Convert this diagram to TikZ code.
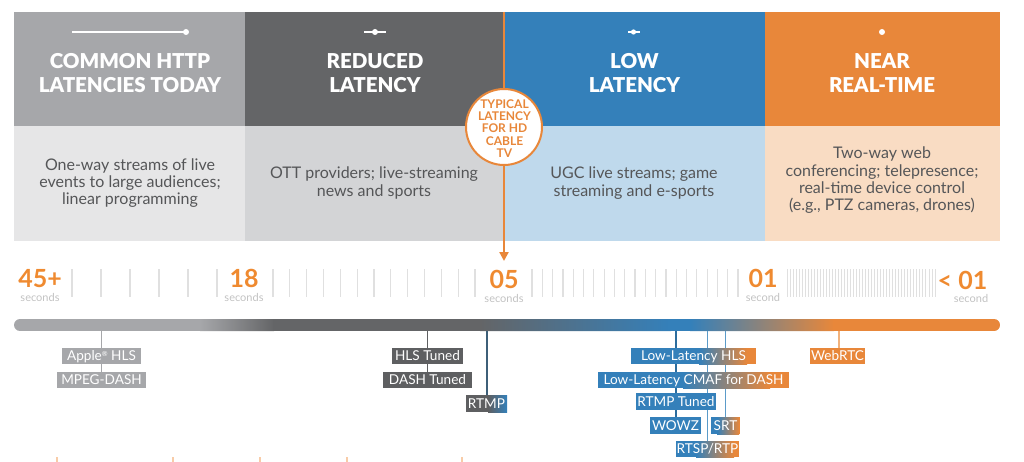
\documentclass[tikz,border=0pt]{standalone}
\usepackage{fontspec}
\setmainfont{Lato}
\newfontfamily\heavyfont{Lato Black}
\usetikzlibrary{arrows.meta,calc}
\definecolor{cgray}{HTML}{A6A7AA}
\definecolor{cdark}{HTML}{646567}
\definecolor{cboxdark}{HTML}{5E5F61}
\definecolor{cblue}{HTML}{3480BA}
\definecolor{corange}{HTML}{E8873A}
\definecolor{cnum}{HTML}{EF8A30}
\definecolor{lgray}{HTML}{E6E6E7}
\definecolor{ldark}{HTML}{D3D4D6}
\definecolor{lblue}{HTML}{BFD9EC}
\definecolor{lorange}{HTML}{F9DCC3}
\definecolor{ctext}{HTML}{555658}
\definecolor{csec}{HTML}{C2C2C2}
\definecolor{ctick}{HTML}{E0E0E0}
\definecolor{cline}{HTML}{3D5F78}
\definecolor{cbline}{HTML}{5B9BC9}
\definecolor{coline}{HTML}{F2B27C}
\definecolor{cbot}{HTML}{F8CCA8}
\pgfdeclarelayer{bg}
\pgfdeclarelayer{lines}
\pgfsetlayers{bg,lines,main}
\tikzset{
  head/.style={align=center,text=white,inner sep=0pt,font=\heavyfont\fontsize{20.5}{24}\selectfont},
  body/.style={align=center,text=ctext,inner sep=0pt,font=\fontsize{16}{17.3}\selectfont},
  num/.style={anchor=base,text=cnum,inner sep=0pt,font=\bfseries\fontsize{25}{25}\selectfont},
  sec/.style={anchor=base,text=csec,inner sep=0pt,font=\fontsize{11}{11}\selectfont},
  tickline/.style={ctick,line width=1.2pt},
  box/.style={inner sep=0pt,minimum height=16pt,text=white,text height=9.8pt,text depth=0pt,font=\fontsize{13.6}{14}\selectfont},
  gradfill/.style n args={4}{fill=#1,path picture={
     \fill[#2] ($(path picture bounding box.north west)+(#4-0.6,0)$) rectangle (path picture bounding box.south east);
     \shade[left color=#1,right color=#2] ($(path picture bounding box.south west)+(#3,0)$) rectangle ($(path picture bounding box.north west)+(#4,0)$);}},
  conn/.style={line width=1.2pt},
  icon/.style={white,line width=2.4pt}
}
\begin{document}
\begin{tikzpicture}[x=1pt,y=-1pt]
\useasboundingbox (0,0) rectangle (1024,462);
\begin{pgfonlayer}{bg}
\fill[cgray] (14,12) rectangle (245,126);
\fill[cdark] (245,12) rectangle (503,126);
\fill[cblue] (503,12) rectangle (765,126);
\fill[corange] (765,12) rectangle (1000,126);
\fill[lgray] (14,126) rectangle (245,241);
\fill[ldark] (245,126) rectangle (503,241);
\fill[lblue] (503,126) rectangle (765,241);
\fill[lorange] (765,126) rectangle (1000,241);
% header icons
\draw[icon] (72,32) -- (186,32); \fill[white] (186,32) circle (3pt);
\draw[icon] (364,32) -- (386,32); \fill[white] (375,32) circle (3pt);
\draw[icon,line width=2pt] (628,32) -- (640,32); \fill[white] (633.5,32) circle (2.6pt);
\fill[white] (882,32) circle (3pt);
% scale ticks
\foreach \i in {0,...,5} \draw[tickline] ({72+29*\i},269) -- ({72+29*\i},297);
\foreach \i in {0,...,12} \draw[tickline] ({273+16.83*\i},269) -- ({273+16.83*\i},297);
\foreach \i in {0,...,20} \draw[tickline] ({532+10.3*\i},269) -- ({532+10.3*\i},297);
\foreach \i in {0,...,49} \draw[ctick,line width=0.9pt] ({787+3.02*\i},269) -- ({787+3.02*\i},297);
% gradient bar
\begin{scope}
\clip[rounded corners=6pt] (14,319) rectangle (1000,331);
\fill[cgray] (14,319) rectangle (201,331);
\shade[left color=cgray,right color=cdark] (200,319) rectangle (274,331);
\fill[cdark] (273,319) rectangle (481,331);
\shade[left color=cdark,right color=cblue] (480,319) rectangle (671,331);
\fill[cblue] (670,319) rectangle (691,331);
\shade[left color=cblue,right color=corange] (690,319) rectangle (834,331);
\fill[corange] (833,319) rectangle (1000,331);
\end{scope}
% bottom cut-off ticks
\foreach \x in {57,173,260,347,462} \draw[cbot,line width=1.4pt] (\x,457) -- (\x,462);
\end{pgfonlayer}

% header texts
\node[head] (h1) at (130,73.5) {COMMON HTTP\\LATENCIES TODAY};
\node[head] (h2) at (375,73.5) {REDUCED\\LATENCY};
\node[head] (h3) at (634.5,73.5) {LOW\\LATENCY};
\node[head] (h4) at (882,73.5) {NEAR\\REAL-TIME};
% body texts
\node[body] (t1) at (130,183) {One-way streams of live\\events to large audiences;\\linear programming};
\node[body] (t2) at (374,183) {OTT providers; live-streaming\\news and sports};
\node[body] (t3) at (634,183) {UGC live streams; game\\streaming and e-sports};
\node[body] (t4) at (882,180.5) {Two-way web\\conferencing; telepresence;\\real-time device control\\(e.g., PTZ cameras, drones)};
% callout
\coordinate (tvtop) at (504,12);
\coordinate (tvtip) at (504,261);
\node[circle,draw=corange,line width=2pt,fill=white,minimum size=76pt,inner sep=0pt] (tv) at (504,127) {};
\node[align=center,text=corange,inner sep=0pt,font=\bfseries\fontsize{12}{12.2}\selectfont] (tvtext) at (504.5,128.5) {TYPICAL\\LATENCY\\FOR HD\\CABLE\\TV};
% scale labels
\node[num] (n45) at (40,287) {45+};
\node[sec] (s45) at (40,301) {seconds};
\node[num] (n18) at (244,287) {18};
\node[sec] (s18) at (244,301) {seconds};
\node[num] (n05) at (504,288) {05};
\node[sec] (s05) at (504,302) {seconds};
\node[num] (n01) at (763,287) {01};
\node[sec] (s01) at (763,301) {second};
\node[num] (nl01) at (962.5,289) {< 01};
\node[sec] (sl01) at (971,302.5) {second};
% protocol boxes
\node[box,fill=cgray,minimum width=79pt] (apple) at (101.5,356) {Apple\raisebox{4pt}{\fontsize{7}{7}\selectfont ®} HLS};
\node[box,fill=cgray,minimum width=89pt] (mpeg) at (101.5,380) {MPEG-DASH};
\node[box,fill=cboxdark,minimum width=71pt] (hlst) at (427.5,356) {HLS Tuned};
\node[box,fill=cboxdark,minimum width=89pt] (dasht) at (427.5,380) {DASH Tuned};
\node[box,gradfill={cboxdark}{cblue}{22}{41},minimum width=41pt,minimum height=17pt] (rtmp) at (486.5,403.5) {RTMP};
\node[box,gradfill={cblue}{corange}{68}{116},minimum width=125pt] (llhls) at (693.5,356) {Low-Latency HLS};
\node[box,gradfill={cblue}{corange}{85}{172},minimum width=191pt] (cmaf) at (693.5,380) {Low-Latency CMAF for DASH};
\node[box,fill=cblue,minimum width=80pt,minimum height=17pt] (rtmpt) at (676,401.5) {RTMP Tuned};
\node[box,fill=cblue,minimum width=51pt,minimum height=17pt] (wowz) at (675.5,425.5) {WOWZ};
\node[box,gradfill={cblue}{corange}{6}{28},minimum width=29pt,minimum height=17pt] (srt) at (725.5,425.5) {SRT};
\node[box,gradfill={cblue}{corange}{20}{58},minimum width=63pt] (rtsp) at (707.5,449) {RTSP/RTP};
\node[box,fill=corange,minimum width=55pt] (webrtc) at (837.5,356) {WebRTC};
% bar anchor points
\coordinate (b1) at (101.5,331);
\coordinate (b2) at (427.5,331);
\coordinate (b3) at (487,331);
\coordinate (b4) at (676,331);
\coordinate (b5) at (707.5,331);
\coordinate (b6) at (725.5,331);
\coordinate (b7) at (839,331);
\begin{pgfonlayer}{lines}
\draw[corange,line width=2.5pt] (tvtop) -- (tv.north);
\draw[corange,line width=2.5pt,-{Triangle[width=9pt,length=9pt]}] (tv.south) -- (tvtip);
\draw[conn,cgray] (b1) -- (b1 |- apple.north) (b1 |- apple.south) -- (b1 |- mpeg.north);
\draw[conn,cboxdark] (b2) -- (b2 |- hlst.north) (b2 |- hlst.south) -- (b2 |- dasht.north);
\draw[conn,cline] (b3) -- (b3 |- rtmp.north);
\draw[conn,cblue!85!black] (b4) -- (b4 |- llhls.north) (b4 |- llhls.south) -- (b4 |- cmaf.north)
   (b4 |- cmaf.south) -- (b4 |- rtmpt.north) (b4 |- rtmpt.south) -- (b4 |- wowz.north);
\draw[conn,cbline] (b5) -- (b5 |- llhls.north) (b5 |- llhls.south) -- (b5 |- cmaf.north)
   (b5 |- cmaf.south) -- (b5 |- rtmpt.north) (b5 |- rtmpt.south) -- (b5 |- rtsp.north);
\draw[conn,cbline] (b6) -- (b6 |- llhls.north) (b6 |- llhls.south) -- (b6 |- cmaf.north)
   (b6 |- cmaf.south) -- (b6 |- srt.north);
\draw[conn,coline] (b7) -- (b7 |- webrtc.north);
\end{pgfonlayer}
\end{tikzpicture}
\end{document}
